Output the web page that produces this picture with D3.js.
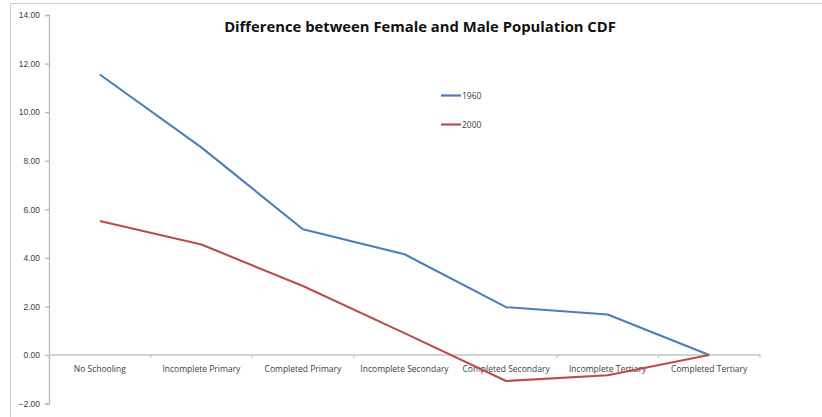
<!DOCTYPE html>
<html>
<head>
<meta charset="utf-8">
<script src="https://cdn.jsdelivr.net/npm/d3@7"></script>
<style>
  body { margin: 0; background: #fff; }
  svg { display: block; font-family: "Open Sans", "Liberation Sans", sans-serif; }
</style>
</head>
<body>
<svg id="chart" width="822" height="417"></svg>
<script>
// Education levels along the horizontal axis
const categories = [
  "No Schooling", "Incomplete Primary", "Completed Primary",
  "Incomplete Secondary", "Completed Secondary", "Incomplete Tertiary",
  "Completed Tertiary"
];
// Female minus male cumulative share, by year
const values1960 = [11.55, 8.55, 5.18, 4.15, 1.97, 1.67, 0.0];
const values2000 = [5.52, 4.55, 2.84, 0.90, -1.07, -0.83, 0.0];
const seriesNames = ["1960", "2000"];
const seriesColors = ["#4a7ebb", "#be4b48"];
const yTicks = [-2, 0, 2, 4, 6, 8, 10, 12, 14];

const svg = d3.select("#chart");

// chart frame
svg.append("rect")
  .attr("x", 10.5).attr("y", 3.5)
  .attr("width", 830).attr("height", 430)
  .attr("fill", "none").attr("stroke", "#d0d0d0").attr("stroke-width", 1);

const x = d3.scaleBand().domain(categories).range([49, 760]);
const y = d3.scaleLinear().domain([-2, 14]).range([403.6, 15]);

// y axis
const yAxis = d3.axisLeft(y).tickValues(yTicks).tickFormat(d3.format(".2f"))
  .tickSizeOuter(4).tickSizeInner(4).tickPadding(5);
const gy = svg.append("g").attr("transform", "translate(49,0)").call(yAxis);
gy.select(".domain").attr("stroke", "#b8b8b8").attr("stroke-width", 1.3);
gy.selectAll(".tick line").attr("stroke", "#b8b8b8").attr("stroke-width", 1.3);
gy.selectAll(".tick text").attr("fill", "#404040").style("font-size", "8.5px");

// x axis at zero
const boundaries = categories.map(c => x(c) + x.bandwidth()).concat([x(categories[0])]);
const gx = svg.append("g");
gx.append("line")
  .attr("x1", x.range()[0]).attr("x2", x.range()[1])
  .attr("y1", y(0)).attr("y2", y(0))
  .attr("stroke", "#c4c4c4").attr("stroke-width", 1.5);
gx.selectAll("line.tk").data(boundaries).join("line").attr("class", "tk")
  .attr("x1", d => d).attr("x2", d => d)
  .attr("y1", y(0)).attr("y2", y(0) + 3)
  .attr("stroke", "#c4c4c4").attr("stroke-width", 1.3);
gx.selectAll("text").data(categories).join("text")
  .attr("x", d => x(d) + x.bandwidth() / 2)
  .attr("y", y(0) + 17)
  .attr("text-anchor", "middle")
  .attr("fill", "#404040")
  .style("font-size", "8.5px")
  .text(d => d);

// series lines
const line = d3.line()
  .x((d, i) => x(categories[i]) + x.bandwidth() / 2)
  .y(d => y(d));
[values1960, values2000].forEach((vals, k) => {
  svg.append("path")
    .datum(vals)
    .attr("d", line)
    .attr("fill", "none")
    .attr("stroke", seriesColors[k])
    .attr("stroke-width", 2.1)
    .attr("stroke-linejoin", "round");
});

// legend
const legend = svg.append("g");
seriesNames.forEach((name, k) => {
  const ly = 95.5 + k * 29;
  legend.append("line")
    .attr("x1", 441).attr("x2", 461).attr("y1", ly).attr("y2", ly)
    .attr("stroke", seriesColors[k]).attr("stroke-width", 2.2);
  legend.append("text")
    .attr("x", 462).attr("y", ly + 3)
    .attr("fill", "#404040").style("font-size", "8.5px")
    .text(name);
});

// title
svg.append("text")
  .attr("x", 420).attr("y", 32)
  .attr("text-anchor", "middle")
  .attr("fill", "#111")
  .style("font-size", "14.8px").style("font-weight", "bold")
  .text("Difference between Female and Male Population CDF");
</script>
</body>
</html>
